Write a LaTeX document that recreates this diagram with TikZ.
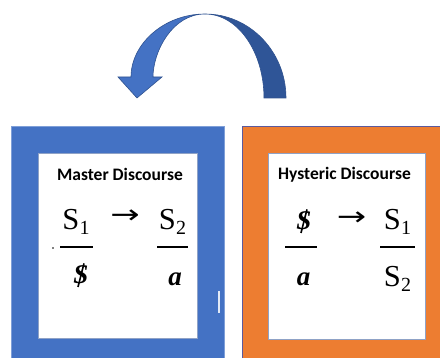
\documentclass[tikz,border=0pt]{standalone}
\usepackage{fontspec}
\setmainfont{Liberation Serif}
\newfontfamily\titlefont{Carlito}
\newfontfamily\arrowfont{DejaVu Sans}
\definecolor{boxblue}{HTML}{4472C4}
\definecolor{boxblueedge}{HTML}{7F9FD8}
\definecolor{boxorange}{HTML}{ED7D31}
\definecolor{orangeedge}{HTML}{5A5A9E}
\definecolor{inneredge}{HTML}{8FA2C6}
\definecolor{arcdark}{HTML}{2F5597}
\definecolor{arcedge}{HTML}{2F528F}
\newcommand\Ssub[1]{S\kern0.5pt\raisebox{-4.5pt}{\fontsize{20}{20}\selectfont #1}}
\newcommand\relglyph{\scalebox{1.35}[1]{→}}
\tikzset{
  outerbox/.style={rectangle, draw, line width=0.8pt, inner sep=0pt},
  innerbox/.style={rectangle, draw=inneredge, fill=white, line width=0.8pt, inner sep=0pt},
  title/.style={font=\titlefont\bfseries\fontsize{17.5}{19}\selectfont, inner sep=0pt, anchor=base},
  sym/.style={font=\fontsize{30.5}{31}\selectfont, inner sep=0pt, anchor=base},
  vsym/.style={font=\fontsize{27}{28}\selectfont\bfseries\itshape, inner sep=0pt, anchor=base},
  barline/.style={line width=1.8pt, black},
  relarrow/.style={font=\arrowfont\fontsize{26}{26}\selectfont, inner sep=0pt},
}
\begin{document}
\begin{tikzpicture}[x=1pt,y=-1pt]
\useasboundingbox (0,0) rectangle (440,358);
\clip (0,0) rectangle (440,358);
% outer boxes
\node[outerbox, draw=boxblueedge, fill=boxblue, minimum width=213pt, minimum height=240pt] (bluebox) at (117.5,246) {};
\node[outerbox, draw=orangeedge, fill=boxorange, minimum width=204pt, minimum height=240pt] (orangebox) at (344,246) {};
% inner white boxes
\node[innerbox, minimum width=159pt, minimum height=185pt] (leftin) at (117.5,245.5) {};
\node[innerbox, minimum width=157pt, minimum height=186pt] (rightin) at (346.5,246) {};
% white tick mark in blue box
\draw[white!85!boxblue, line width=1.4pt] (219,291) -- (219,313);
% curved block arrow: dark rear part
\path[fill=arcdark, draw=arcedge, line width=0.6pt]
  (286,98) .. controls (286,51.6) and (249.7,14) .. (205,14)
  .. controls (237.6,14) and (264,51.6) .. (264,98) -- cycle;
% light front part with arrowhead
\path[fill=boxblue, draw=arcedge, line width=0.6pt]
  (205,14) .. controls (164,14) and (131,44) .. (131,77)
  -- (118,77) -- (137,98) -- (162,77) -- (153,77)
  .. controls (153,52) and (172,14) .. (205,14) -- cycle;
% titles
\node[title] (mtitle) at (120,180.5) {Master Discourse};
\node[title] (htitle) at (344.5,180) {Hysteric Discourse};
% Master discourse formula
\node[sym] (ms1) at (76,230) {\Ssub{1}};
\draw[barline] (60,247) -- (93,247);
\node[vsym] (mbs) at (81,284) {S};
\draw[line width=1.6pt] ([xshift=-3pt,yshift=-2.5pt]mbs.south) -- ([xshift=3pt,yshift=2.5pt]mbs.north);
\node[relarrow] (marrow) at (125,217) {\relglyph};
\node[sym] (ms2) at (172.5,230) {\Ssub{2}};
\draw[barline] (157,247) -- (188,247);
\node[vsym] (ma) at (175,286) {a};
\fill (53,248) circle (0.8pt);
% Hysteric discourse formula
\node[vsym] (hbs) at (304,230) {S};
\draw[line width=1.6pt] ([xshift=-3pt,yshift=-2.5pt]hbs.south) -- ([xshift=3pt,yshift=2.5pt]hbs.north);
\draw[barline] (285,247) -- (317,247);
\node[vsym] (ha) at (303.5,286) {a};
\node[relarrow] (harrow) at (351.5,219) {\relglyph};
\node[sym] (hs1) at (397.5,230) {\Ssub{1}};
\draw[barline] (380,247) -- (415,247);
\node[sym] (hs2) at (397.5,287) {\Ssub{2}};
\end{tikzpicture}
\end{document}
